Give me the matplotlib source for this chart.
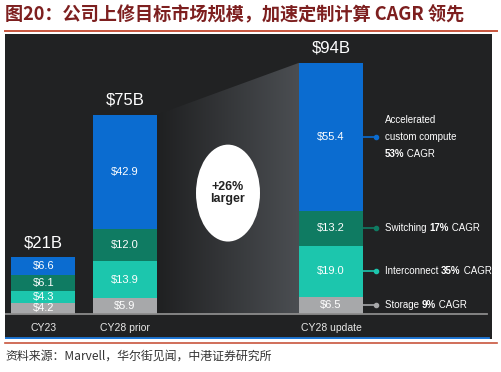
import numpy as np
import matplotlib
import matplotlib.pyplot as plt
from matplotlib.patches import Polygon, Ellipse
from matplotlib.colors import LinearSegmentedColormap
from matplotlib.offsetbox import TextArea, HPacker, VPacker, AnnotationBbox

plt.rcParams['font.family'] = ['Liberation Sans', 'DejaVu Sans']

# data ($B)
periods = ['CY23', 'CY28 prior', 'CY28 update']
segments = ['Storage', 'Interconnect', 'Switching', 'Accelerated custom compute']
storage = [4.2, 5.9, 6.5]
interconnect = [4.3, 13.9, 19.0]
switching = [6.1, 12.0, 13.2]
compute = [6.6, 42.9, 55.4]
totals = ['$21B', '$75B', '$94B']
cagr = ['9%', '35%', '17%', '53%']

colors = ['#a7a8aa', '#1cc6ad', '#0f7b62', '#0b6cd0']

fig = plt.figure(figsize=(5.02, 3.72), dpi=100)
fig.patch.set_facecolor('white')

# title + rules
fig.text(5/502, 1 - 15/372, '图20：公司上修目标市场规模，加速定制计算 CAGR 领先',
         family=['Noto Sans CJK SC', 'DejaVu Sans'], weight='bold', fontsize=13.1,
         color='#7d1f1f', va='center', ha='left')
fig.add_artist(plt.Line2D([5/502, 497/502], [1 - 30.5/372]*2, color='#c8553d', lw=1.4))
fig.add_artist(plt.Line2D([5/502, 497/502], [1 - 342.5/372]*2, color='#c8553d', lw=1.2))
fig.text(5/502, 1 - 356/372, '资料来源：Marvell，华尔街见闻，中港证券研究所',
         family=['Noto Sans CJK SC', 'DejaVu Sans'], style='italic', fontsize=8.6,
         color='#333333', va='center', ha='left')

ax = fig.add_axes([5/502, (372-339)/372, 487/502, 305/372])
ax.set_facecolor('#212223')
for s in ax.spines.values():
    s.set_visible(False)
ax.set_xticks([])
ax.set_yticks([])

xpos = [43.5, 125, 331]
w = 64
ybot = -9.36
ytop = 104.9

# gradient wedge between prior and update
prior_top = sum([storage[1], interconnect[1], switching[1], compute[1]])
upd_top = sum([storage[2], interconnect[2], switching[2], compute[2]])
x0, x1 = xpos[1] + w/2, xpos[2] - w/2
grad = np.linspace(0, 1, 256).reshape(1, -1)
cmap = LinearSegmentedColormap.from_list('g', ['#1f2021', '#4b4e52'])
im = ax.imshow(grad, extent=[x0, x1, 0, upd_top], aspect='auto', cmap=cmap, zorder=1)
poly = Polygon([(x0, 0), (x0, prior_top), (x1, upd_top), (x1, 0)], closed=True,
               transform=ax.transData)
im.set_clip_path(poly)

series = [storage, interconnect, switching, compute]
bottom = np.zeros(3)
for vals, c in zip(series, colors):
    ax.bar(xpos, vals, width=w, bottom=bottom, color=c, zorder=2)
    for i, v in enumerate(vals):
        ax.text(xpos[i], bottom[i] + v/2, f'${v:.1f}', color='white', fontsize=8,
                ha='center', va='center', zorder=3)
    bottom = bottom + np.array(vals)

for i, t in enumerate(totals):
    ax.text(xpos[i], bottom[i] + 5.5, t, color='white', fontsize=12, ha='center',
            va='center', zorder=3)

ax.plot([5, 487], [0, 0], color='#8c8c8c', lw=1.3, zorder=3)
ax.plot([5, 488], [-8.8, -8.8], color='#1e78d8', lw=2, zorder=3)

for i, p in enumerate(periods):
    ax.text(xpos[i], -5.3, p, color='#e8e8e8', fontsize=7.5, ha='center', va='center')

# bubble
ax.add_patch(Ellipse((228, 45.3), 64, 36.3, facecolor='white', edgecolor='none', zorder=4))
ax.text(228, 45.3, '+26%\nlarger', color='#222222', fontsize=9, weight='bold',
        ha='center', va='center', linespacing=1.05, zorder=5)

# right-side annotations
upd = [storage[2], interconnect[2], switching[2], compute[2]]
mids = np.cumsum([0] + upd[:-1]) + np.array(upd) / 2
names = ['Storage ', 'Interconnect ', 'Switching ', '']
fs = 7


def ta(s, bold=False):
    return TextArea(s, textprops=dict(color='white', fontsize=fs,
                                      weight='bold' if bold else 'normal'))


xe = xpos[2] + w/2
for k in range(4):
    ax.plot([xe, xe + 13], [mids[k], mids[k]], color=colors[k], lw=1.2, zorder=3)
    ax.plot([xe + 13], [mids[k]], 'o', color=colors[k], ms=3, zorder=3)
    parts = [ta(cagr[k], True), ta(' CAGR')]
    if names[k]:
        parts = [ta(names[k])] + parts
    box = HPacker(children=parts, align='baseline', pad=0, sep=0)
    if k == 3:
        box = VPacker(children=[ta('Accelerated'), ta('custom compute'), box],
                      align='left', pad=0, sep=5)
    ab = AnnotationBbox(box, (xe + 22, mids[k]), xycoords='data',
                        box_alignment=(0, 0.5), frameon=False, pad=0)
    ax.add_artist(ab)

ax.set_xlim(5, 492)
ax.set_ylim(ybot, ytop)

fig.savefig('out.png', dpi=100)
